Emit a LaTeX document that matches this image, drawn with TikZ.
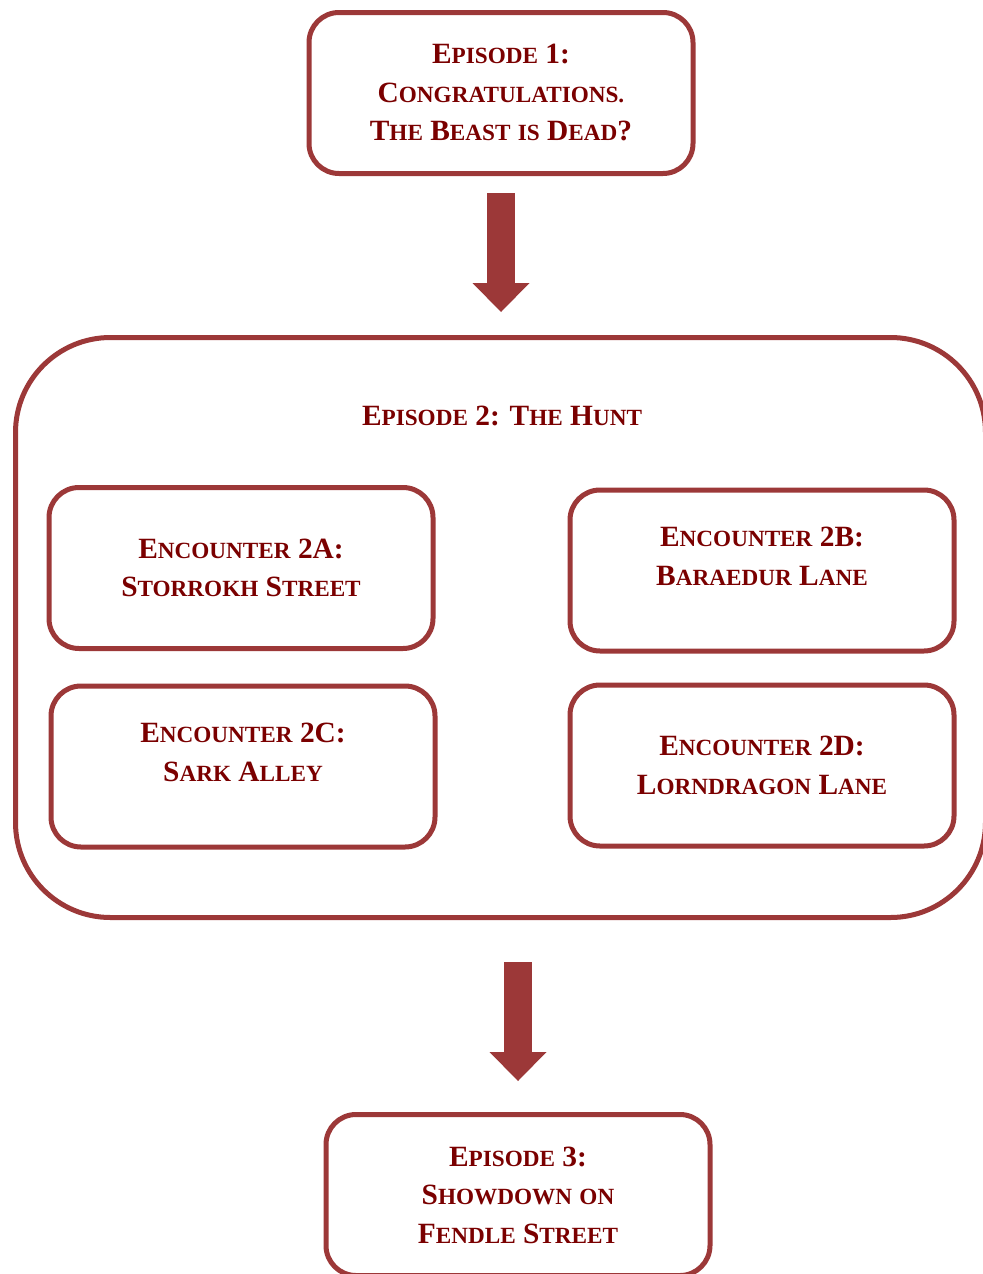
\documentclass[tikz,border=0pt]{standalone}
\usepackage{fontspec}
\setmainfont{Liberation Serif}
\usetikzlibrary{arrows.meta}
\definecolor{boxred}{HTML}{9C3838}
\definecolor{textred}{HTML}{7A0000}
\newcommand{\lc}[1]{{\fontsize{11.6}{19.25}\selectfont #1}}
\newcommand{\smc}[2]{#1\lc{#2}}
\begin{document}
\begin{tikzpicture}[x=0.5pt,y=-0.5pt,
    label text/.style={text=textred, font=\fontsize{14.7}{19.25}\selectfont\bfseries},
    box/.style={label text, draw=boxred, line width=2.5pt, rounded corners=15pt,
      minimum width=192pt, minimum height=80.5pt, align=center, inner sep=0pt},
    bigarrow/.style={draw=boxred, line width=14pt,
      -{Triangle[width=28.5pt,length=14.5pt,line width=0pt]}}]
  \useasboundingbox (0,0) rectangle (982,1274);
  \node [box, minimum width=485pt, minimum height=290pt, rounded corners=47.5pt] (hunt) at (500.5,627.5) {};
  \node [label text] (title) at (502,416) {\smc{E}{PISODE} 2: \smc{T}{HE} \smc{H}{UNT}};
  \node [box] (ep1) at (501,93) {\smc{E}{PISODE} 1:\\\smc{C}{ONGRATULATIONS.}\\\smc{T}{HE} \smc{B}{EAST} \lc{IS} \smc{D}{EAD}?};
  \node [box] (enca) at (241,568) {\smc{E}{NCOUNTER} 2A:\\\smc{S}{TORROKH} \smc{S}{TREET}};
  \node [box, text depth=14pt] (encb) at (762,570.5) {\smc{E}{NCOUNTER} 2B:\\\smc{B}{ARAEDUR} \smc{L}{ANE}};
  \node [box, text depth=14pt] (encc) at (243,766.5) {\smc{E}{NCOUNTER} 2C:\\\smc{S}{ARK} \smc{A}{LLEY}};
  \node [box] (encd) at (762,765.5) {\smc{E}{NCOUNTER} 2D:\\\smc{L}{ORNDRAGON} \smc{L}{ANE}};
  \node [box] (ep3) at (518,1195) {\smc{E}{PISODE} 3:\\\smc{S}{HOWDOWN} \lc{ON}\\\smc{F}{ENDLE} \smc{S}{TREET}};
  \draw [bigarrow, shorten <=8.5pt, shorten >=11.5pt] (ep1.south) -- (ep1.south |- hunt.north);
  \draw [bigarrow, shorten <=21pt, shorten >=15.5pt] (ep3.north |- hunt.south) -- (ep3.north);
\end{tikzpicture}
\end{document}
